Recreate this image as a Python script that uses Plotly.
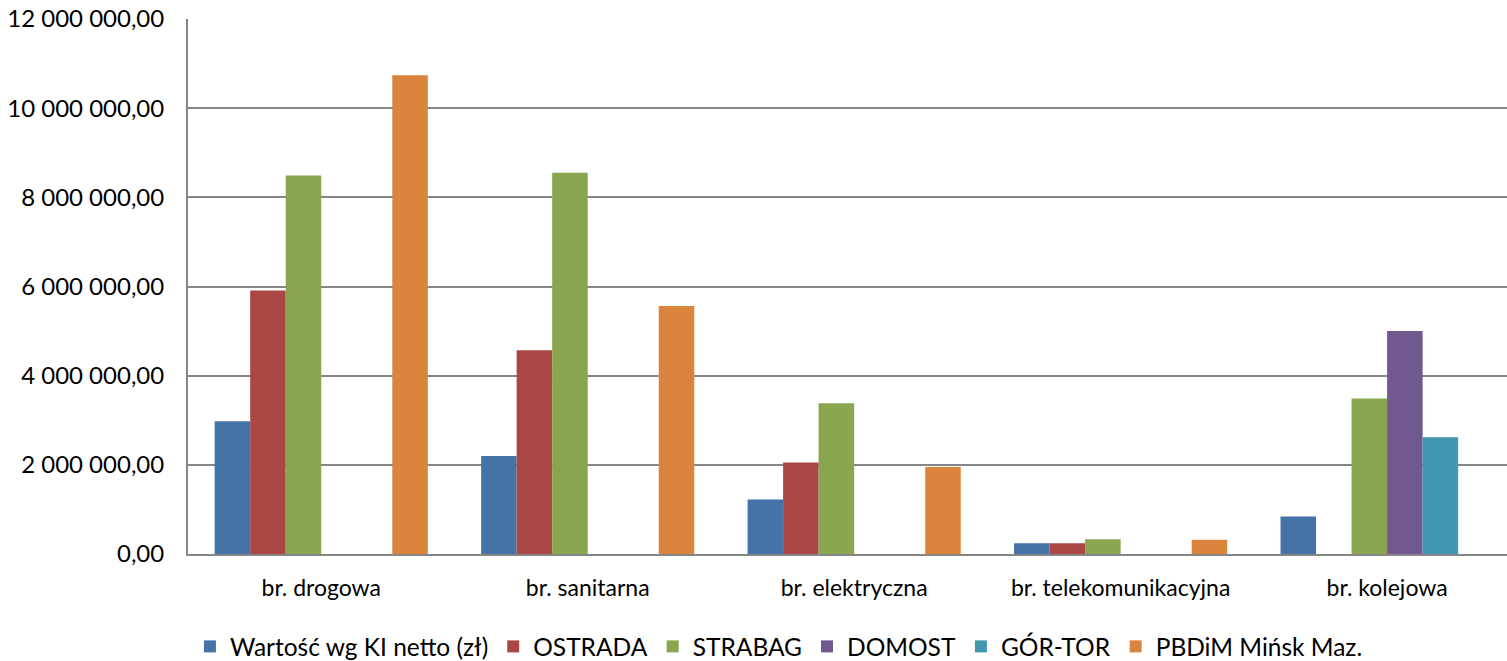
import plotly.graph_objects as go

categories = ["br. drogowa", "br. sanitarna", "br. elektryczna", "br. telekomunikacyjna", "br. kolejowa"]
series_names = ["Wartość wg KI netto (zł)", "OSTRADA", "STRABAG", "DOMOST", "GÓR-TOR", "PBDiM Mińsk Maz."]
ki_netto = [2980000, 2200000, 1220000, 240000, 840000]
ostrada = [5910000, 4570000, 2050000, 240000, 0]
strabag = [8490000, 8550000, 3380000, 330000, 3490000]
domost = [0, 0, 0, 0, 5000000]
gortor = [0, 0, 0, 0, 2620000]
pbdim = [10740000, 5560000, 1950000, 320000, 0]
colors = ["#4572A7", "#AA4643", "#89A54E", "#71588F", "#4198AF", "#DB843D"]
y_ticks = [0, 2000000, 4000000, 6000000, 8000000, 10000000, 12000000]

fig = go.Figure()
for name, vals, col in zip(series_names, [ki_netto, ostrada, strabag, domost, gortor, pbdim], colors):
    fig.add_trace(go.Bar(name=name, x=categories, y=vals, marker=dict(color=col, line=dict(width=0))))

font_family = "Lato, 'Open Sans', sans-serif"
fig.update_layout(
    width=1507, height=661,
    margin=dict(l=188, r=0, t=19, b=107, autoexpand=False),
    paper_bgcolor="white", plot_bgcolor="white",
    barmode="group", bargap=0.2, bargroupgap=0,
    separators=", ",
    font=dict(family=font_family, size=23, color="#000000"),
    showlegend=True,
    legend=dict(orientation="h", x=0.448, xanchor="center",
                yref="container", y=0.022, yanchor="middle",
                font=dict(size=24.5, color="#000000"), traceorder="normal",
                itemwidth=30),
    xaxis=dict(range=[-0.5, 4.45], showline=True, linecolor="#868686", linewidth=2, showgrid=False,
               ticks="", ticklabelstandoff=12, tickfont=dict(size=23)),
    yaxis=dict(range=[0, 12000000], tickvals=y_ticks, tickformat=",.2f",
               showline=True, linecolor="#868686", linewidth=2,
               showgrid=True, gridcolor="#868686", gridwidth=2,
               ticks="", ticklabelstandoff=17, tickfont=dict(size=24), zeroline=False),
)

page_fix = """
var h = document.documentElement, b = document.body;
h.style.margin = '0'; b.style.margin = '0';
h.style.overflow = 'hidden'; b.style.overflow = 'hidden';
h.style.height = '661px'; b.style.height = '661px';
var gd = document.getElementById('{plot_id}');
if (gd && gd.parentElement) {
  gd.parentElement.style.height = '661px';
  gd.parentElement.style.overflow = 'hidden';
  gd.parentElement.style.lineHeight = '0';
}
"""
fig.write_html("out.html", config={"displayModeBar": False}, post_script=page_fix)
